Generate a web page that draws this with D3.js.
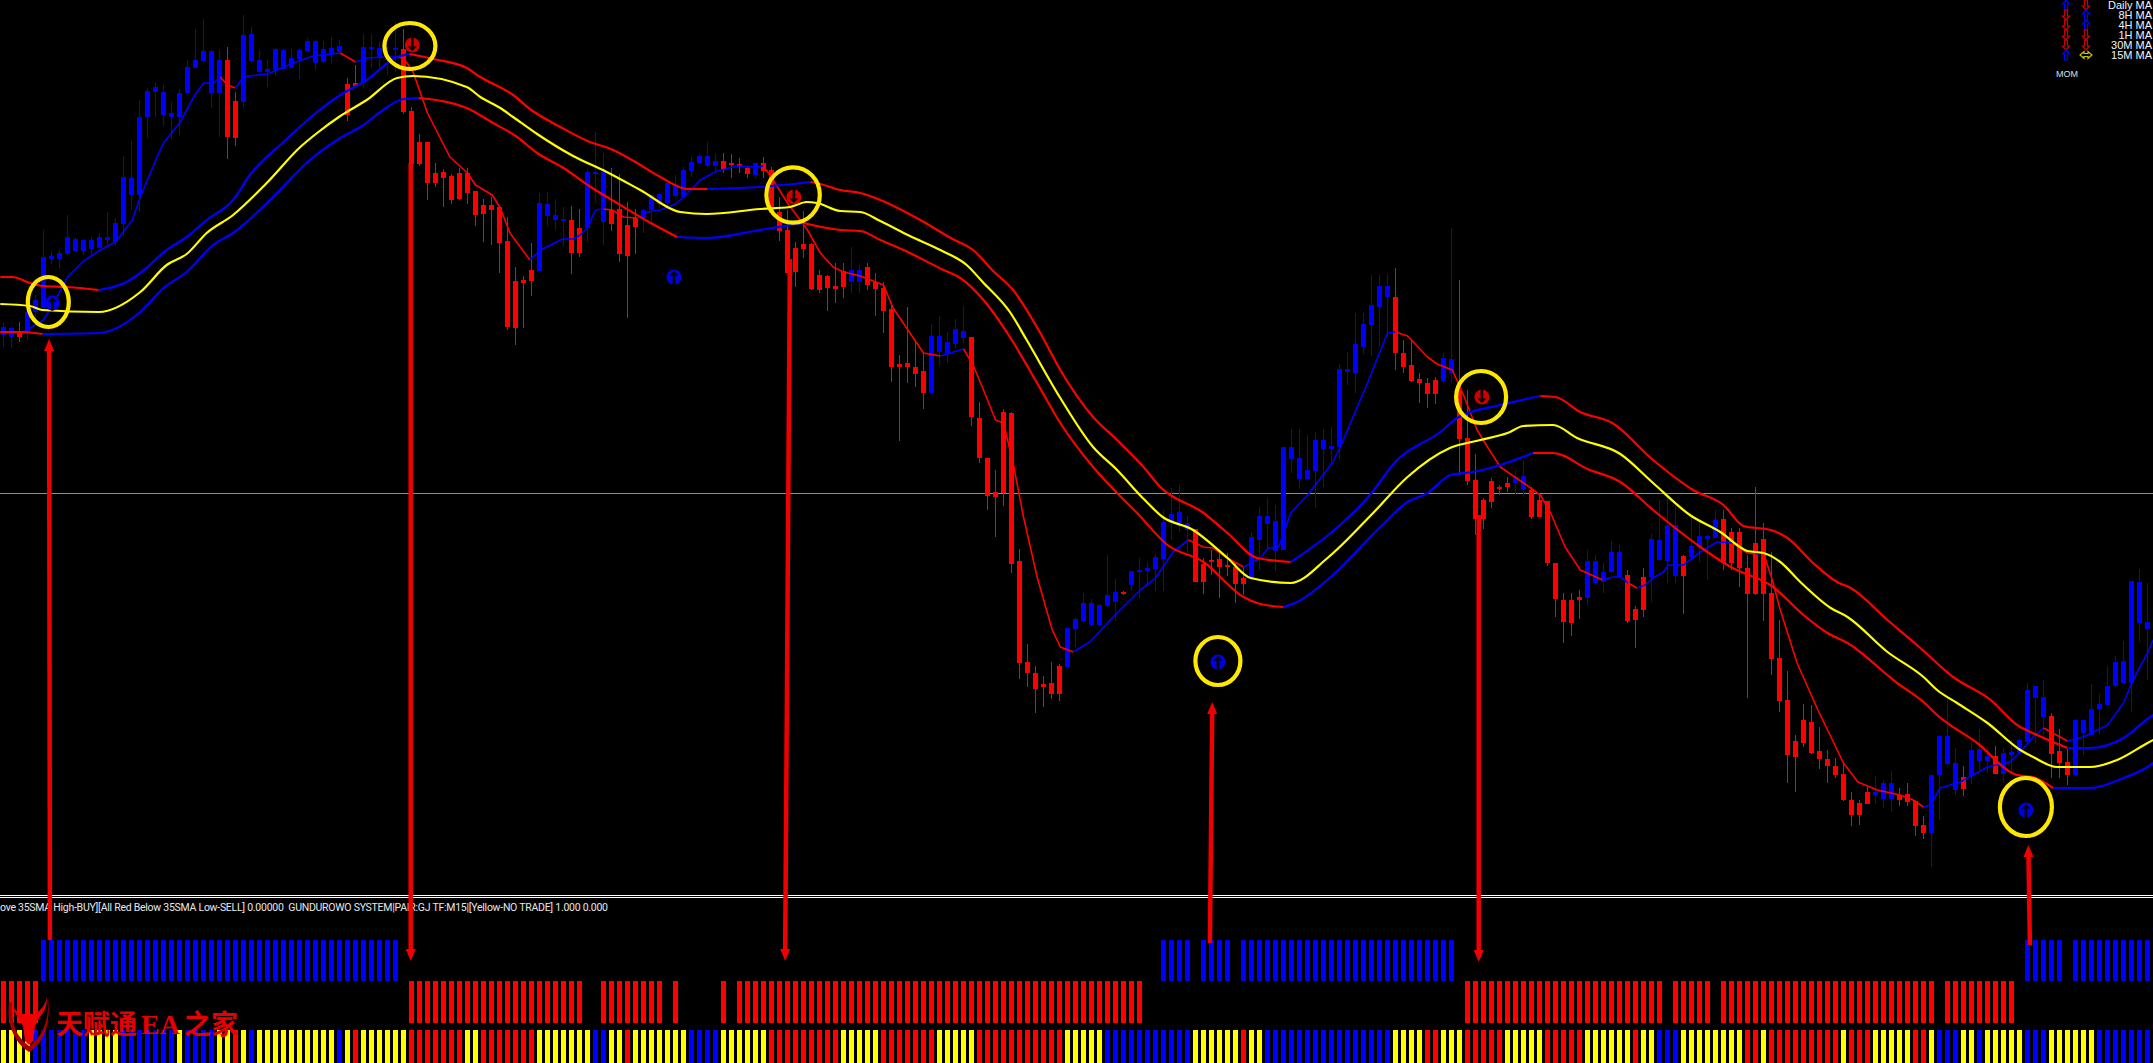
<!DOCTYPE html>
<html><head><meta charset="utf-8">
<style>html,body{margin:0;padding:0;background:#000;overflow:hidden}svg{display:block}</style>
<script src="https://d3js.org/d3.v7.min.js"></script></head><body><svg id="c" width="2153" height="1063"></svg>
<script>
// M15 candles, in chart points
const opens=[565,563,567,567,588,592,641,641,646,649,
649,651,652,660,658,676,705,705,783,808,
785,783,783,807,832,839,807,807,840,799,
798,839,828,828,830,831,832,841,849,837,
838,845,848,816,817,817,851,843,841,850,
851,789,758,758,727,728,724,727,727,709,
695,695,693,659,619,620,630,629,684,680,
679,680,672,672,726,678,690,691,675,682,
682,690,696,697,704,703,729,737,734,734,
739,737,736,732,725,737,730,688,670,652,
656,656,625,624,614,629,618,618,633,618,
612,591,536,537,533,529,507,548,547,556,
562,563,482,442,408,488,487,339,238,227,
216,217,234,233,271,279,275,275,294,298,
308,315,329,329,331,341,377,377,370,371,
336,340,341,335,333,322,322,360,376,349,
350,441,421,421,429,451,451,453,528,527,
553,575,593,603,603,547,535,521,517,520,
519,527,510,462,420,400,419,413,417,417,
411,410,400,399,337,300,300,303,302,317,
318,328,323,325,291,323,323,340,339,324,
344,343,353,361,362,381,368,368,332,357,
361,307,242,200,159,180,178,149,141,134,
126,100,97,108,105,101,101,105,106,99,
75,67,125,136,110,123,124,139,139,144,
126,145,147,158,202,183,184,149,138,125,
167,165,191,195,214,217,217,277,271];
const closes=[573,572,563,588,600,643,644,647,663,661,
660,660,663,663,677,723,722,783,809,813,
808,787,807,833,840,849,849,840,763,762,
865,866,840,831,851,850,842,850,859,859,
851,852,854,785,814,853,853,852,842,852,
788,736,736,717,717,722,700,701,707,685,
686,690,657,573,572,617,619,697,696,685,
681,647,647,728,728,728,676,646,644,673,
690,705,706,717,714,730,738,744,744,739,
731,735,734,726,737,729,687,669,627,628,
651,611,610,612,611,613,630,630,615,611,
589,533,533,533,526,507,564,564,558,571,
569,483,442,404,403,407,336,237,227,211,
213,206,206,272,281,297,297,295,305,308,
307,329,330,332,343,378,386,388,377,318,
318,338,333,334,316,316,363,384,384,379,
453,453,442,430,460,460,454,531,531,556,
576,595,614,614,547,533,519,517,506,506,
542,541,461,419,381,381,398,411,413,423,
424,383,383,337,301,278,277,300,339,339,
328,348,348,279,280,290,361,360,375,375,
324,354,364,364,380,337,337,332,306,306,
306,241,199,145,143,157,147,141,134,125,
100,85,85,96,108,117,117,100,98,74,
67,125,164,164,137,111,150,151,144,126,
147,148,160,210,214,203,146,137,125,180,
180,191,196,214,238,239,319,318,278];
const highs=[577,573,578,593,605,670,649,650,685,663,
661,663,667,688,682,744,759,800,812,817,
815,798,811,840,871,881,850,850,853,808,
885,873,850,840,852,851,851,851,862,860,
859,863,860,822,835,866,866,858,853,878,
871,793,766,758,737,731,726,732,732,709,
701,703,693,683,633,624,657,707,708,701,
693,694,691,731,768,747,732,726,698,691,
691,705,707,718,725,733,743,746,758,746,
747,746,742,733,737,743,733,703,690,658,
689,657,630,625,637,637,653,635,637,627,
618,598,545,593,558,547,576,584,568,581,
594,563,498,442,430,491,488,351,256,234,
224,238,236,272,282,307,301,296,345,321,
309,329,342,338,346,390,412,415,384,371,
342,350,348,347,337,333,368,393,402,395,
453,471,471,465,468,471,473,536,548,587,
587,625,625,626,632,560,560,527,522,523,
547,672,620,510,446,402,422,415,423,430,
439,413,407,399,337,307,307,310,350,345,
337,359,355,330,294,332,366,400,405,394,
345,383,379,365,390,390,372,372,345,413,
377,348,280,229,165,196,195,173,150,142,
138,108,100,113,124,120,129,112,117,100,
84,125,164,203,152,134,158,171,152,154,
152,160,161,217,214,220,187,171,151,181,
180,216,206,234,244,259,319,331,317];
const lows=[553,552,558,560,582,590,636,631,645,648,
645,645,650,655,654,664,690,688,762,783,
774,761,765,807,832,838,792,763,741,754,
793,838,828,813,824,831,832,821,848,830,
837,837,847,779,813,813,832,832,825,828,
786,736,734,700,713,693,696,700,696,674,
658,655,627,570,555,572,604,629,674,670,
654,626,643,658,698,655,669,638,582,646,
667,678,692,693,703,702,723,737,733,728,
727,722,727,722,722,722,685,659,627,613,
642,610,607,589,597,602,607,607,610,584,
567,518,459,517,513,491,507,534,537,552,
557,474,437,390,363,394,327,221,213,187,
193,201,199,232,253,278,273,274,293,279,
305,309,302,313,309,309,360,368,346,318,
306,325,302,324,297,305,322,330,350,329,
350,427,411,421,392,413,438,441,515,507,
546,544,553,563,530,527,518,497,492,496,
517,517,425,415,365,371,392,405,408,405,
403,381,383,334,283,257,264,281,295,316,
307,327,322,277,252,283,298,339,317,317,
286,342,338,320,362,330,330,313,202,305,
279,225,188,117,108,153,146,131,117,122,
99,74,75,96,96,92,88,94,94,64,
61,33,80,135,105,104,116,130,127,126,
117,127,146,157,157,165,122,122,115,124,
145,165,165,195,213,216,188,258,220];

// 35 SMA of close (yellow)
const midBars=[-0.4,3.3,4.9,11.9,17.1,20.4,22.9,25.4,28.7,32.9,37.1,39.2,42.1,45.4,49.2,51.2,57.9,59.6,62.1,63.7,66.7,71.2,75.4,79.6,84.6,87.9,94.6,98.3,100.4,101.7,104.6,107.1,109.6,113.3,117.1,120.4,122.4,125.8,127.9,132.1,136.2,139.2,142.4,144.9,148.7,153,155.9,160.9,165.5,171.2,175.5,180.8,184.6,188,190,193.7,196.7,202.1,206.2,210.8,214.6,218,220,222.1,224.6,228.4,230.5,235.5,240,241.7,244.2,248,252.1,253.7,256.7,260.8,264.2,268,268.7];
const midVals=[596,594,590,588,608,635,646,667,685,717,753,767,784,800,822,824,813,803,792,783,766,744,728,710,688,686,691,693,698,697,689,688,679,664,650,635,618,588,560,502,453,430,402,383,370,342,322,317,342,387,423,452,460,467,474,475,462,446,417,385,368,349,347,338,318,292,283,248,223,210,197,177,150,143,133,133,140,157,160];
// 35 SMA of high
const upperBars=[-0.4,1.1,3.3,4.9,8,11.9,15.4,17.1,20.4,22.9,25.4,28.7,30.8,35,39.2,42.5,45.4,49.2,50.8,53.7,57.9,59.6,63.7,65.8,69.6,73,76.2,79.2,82.1,85.5,88,94.6,100.9,102.1,104.6,107.1,109.6,114.6,118.4,121.2,123.7,126.2,129.6,132.1,136.2,139.2,142.5,144.6,150,153,156.7,160.9,165.9,170.5,174.2,179.6,181.7,187.1,192.1,194,197.1,201.1,206.2,211.2,215,217.5,220.9,223,226.2,229.2,230.9,235.5,239.6,243.7,248.4,251.7,254.2,258,260.8,265,268,268.7];
const upperVals=[623,623,617,614,613,610,618,627,650,663,680,700,725,758,788,807,820,843,846,841,832,823,805,791,773,759,750,737,723,711,711,713,718,716,710,707,700,680,662,650,629,610,567,530,483,460,433,413,387,367,342,338,367,402,440,468,482,495,504,503,488,477,440,410,395,374,370,362,337,318,312,280,252,223,200,175,165,152,152,162,181,185];
// 35 SMA of low
const lowerBars=[-0.4,2.1,4.9,11.9,17.1,20,22.9,26.2,28.7,33.7,38.3,42.1,45,47.1,50,51.9,57.9,61.2,64.2,66.7,70,73.4,77.1,80.9,84.2,88,94.6,100,104.6,107.1,109.6,112.5,117.5,119.6,122.5,125.8,129.2,132.1,136.2,139.2,141.7,145.5,150,155,157.1,160,161.7,165.9,172.1,175.5,178,180.9,183.7,187.1,191.2,193.7,198,202.1,206.2,209.6,212.1,215.9,221.2,225,228,230.5,236.7,240,241.7,246.7,251.7,253.7,256.2,260.8,265,268,268.7];
const lowerVals=[568,568,566,567,588,612,628,655,667,703,740,762,775,788,801,802,792,777,763,747,732,713,695,677,663,662,670,677,670,669,660,650,630,622,600,563,517,477,433,407,387,355,338,303,296,293,298,323,373,398,407,425,428,435,447,447,431,418,390,368,353,333,313,285,267,257,217,198,185,157,125,123,112,112,122,133,137];
// fast average
const fastBars=[-0.4,2.5,5,6.5,8,10,12.1,14,16.1,17.1,19.2,20,22.1,23.7,25,26.2,27.1,28,29,30,31.7,33,34.2,36.2,38.7,42.1,44,45.5,48,49.2,50,51.2,53,55.8,58,59,61.1,62.1,63.3,65.8,67.1,69.9,71.2,72.1,73,74,75,76.1,77.5,79.2,80.5,82.1,84,85,87.1,89.2,91.7,94.2,95,96.2,98,100.5,102.1,103.7,105,107.1,110,111.2,115,117.1,120,121.2,122.5,124,125,126.2,127.5,129.2,131.1,132.1,133.7,135.8,138.7,142.1,144,146.2,148.1,150,151.2,153,155,157.1,158.1,159.4,160.9,163,166.1,167.1,170.5,173,174,175.5,178,179.2,181.1,182.5,184.2,185.5,187.1,190,192.1,193.4,195.2,197.1,199.9,201.2,202.1,203.1,204.2,205.2,206.2,207.5,208.1,210,212.1,214.2,216.2,218,219,220,221.1,222.1,224.2,226.8,230,231.8,234.2,237.1,238.7,240,240.8,242.1,244.6,248,250.8,252.1,253.7,255,258,260,263,265,266.2,268,268.7];
const fastVals=[567,568,580,600,623,639,650,658,680,703,743,757,778,802,817,817,823,815,812,823,825,826,830,837,844,847,838,842,843,843,842,828,787,743,727,715,705,692,667,640,650,661,661,665,672,690,691,690,683,682,688,690,696,703,720,729,734,733,734,720,697,670,647,633,628,624,615,592,547,544,551,535,510,480,477,437,383,323,270,253,248,258,283,310,322,348,360,353,352,342,333,342,352,353,387,405,437,453,517,567,568,564,543,536,530,505,470,453,433,417,405,387,353,330,320,323,323,317,312,315,322,328,335,335,348,358,357,347,346,347,320,290,237,190,137,118,110,105,100,93,95,112,118,133,138,148,163,172,159,163,175,197,220,247,260];
// rising stretches (drawn blue), everything else falling (drawn red)
const upperRising=[[11.9,50.8],[88,100.9],[160.9,192.1],[258,270]];
const lowerRising=[[4.9,51.9],[84.2,100],[160,191.2],[258,270]];
const fastRising=[[-1,27.1],[29,42.1],[44,49.2],[65.8,75],[79.2,95],[117.1,120],[133.7,148.1],[155,174],[199.9,203.1],[204.2,216.2],[219,220],[240,255],[258,270]];

const priceLine=[407];
// indicator rows: runs of bars
const topRowRuns=[[5,49],[145,148],[150,153],[155,181],[253,257],[259,268]];
const midRowRuns=[[0,4],[51,72],[75,82],[84,84],[90,90],[92,142],[183,207],[209,213],[215,241],[243,251]];
const bottomRowRuns=[['y',0,3],['b',4,10],['y',11,14],['b',15,21],['y',22,22],['b',23,26],['y',27,28],['r',29,29],['y',30,30],['b',31,31],['y',32,41],['b',42,42],['y',43,43],['r',44,44],['y',45,50],['r',51,57],['y',58,59],['r',60,66],['y',67,73],['b',74,75],['y',76,77],['r',78,78],['y',79,85],['b',86,89],['y',90,95],['r',96,104],['y',105,109],['r',110,116],['y',117,121],['r',122,132],['y',133,137],['b',138,148],['y',149,154],['r',155,155],['y',156,157],['b',158,173],['y',174,177],['r',178,179],['y',180,182],['r',183,187],['y',188,192],['r',193,197],['y',198,203],['r',204,204],['y',205,206],['b',207,209],['y',210,217],['r',218,219],['y',220,220],['r',221,229],['y',230,230],['r',231,233],['y',234,238],['r',239,240],['y',241,241],['b',242,244],['y',245,246],['b',247,247],['y',248,252],['b',253,255],['y',256,261],['b',262,268]];

// annotations in bar / price terms
const ringBars=[5.6,50.8,98.7,151.8,184.7,252.8];
const ringPrices=[598,854,705,239,503,93];
const buySignalBars=[6.1,83.8,151.8,252.8];
const buySignalPrices=[597,623,238,90];
const sellSignalBars=[51.1,98.8,184.8];
const sellSignalPrices=[855,703,503];
const calloutFrom=[[5.8,-40],[50.9,737],[98.3,641],[150.8,-43],[184.4,385],[253.3,-45]];
const calloutTo=[[5.7,561],[50.9,-61],[97.7,-61],[151.1,198],[184.4,-62],[253.1,55]];

const tfLabels=['Daily MA','8H MA','4H MA','1H MA','30M MA','15M MA'];
const tfFirst=['up','down','down','down','down','up'];
const tfSecond=['down','up','up','down','down','flat'];
const statusText='ove 35SMA High-BUY][All Red Below 35SMA Low-SELL] 0.00000  GUNDUROWO SYSTEM|PAIR:GJ TF:M15|[Yellow-NO TRADE] 1.000 0.000';
const watermarkParts=['天赋通','EA','之家'];

// ---------- drawing ----------
const RED='#ff0000',BLUE='#0000ff',YEL='#ffff00';
const svg=d3.select('#c');
const x=d3.scaleLinear().domain([0,269]).range([3.5,2155.5]);
const y=d3.scaleLinear().domain([900,0]).range([0,900]);
const n=opens.length, idx=d3.range(n);

svg.append('rect').attr('width',2153).attr('height',1063).attr('fill','#000');
svg.selectAll('.pl').data(priceLine).join('line').attr('class','pl')
 .attr('x1',0).attr('x2',2153).attr('y1',d=>y(d)+.5).attr('y2',d=>y(d)+.5).attr('stroke','#8c8c8c');

const cg=svg.append('g').attr('shape-rendering','crispEdges');
const col=i=>closes[i]>=opens[i]?BLUE:RED;
cg.selectAll('.w').data(idx).join('rect').attr('class','w')
 .attr('x',i=>Math.floor(x(i))).attr('width',1)
 .attr('y',i=>y(highs[i])).attr('height',i=>y(lows[i])-y(highs[i])).attr('fill',col);
cg.selectAll('.b').data(idx).join('rect').attr('class','b')
 .attr('x',i=>Math.floor(x(i))-2).attr('width',5)
 .attr('y',i=>y(Math.max(opens[i],closes[i])))
 .attr('height',i=>Math.max(1.5,Math.abs(y(opens[i])-y(closes[i])))).attr('fill',col);

const lineGen=d3.line().x(d=>x(d[0])).y(d=>y(d[1]));
const smoothGen=d3.line().x(d=>x(d[0])).y(d=>y(d[1])).curve(d3.curveMonotoneX);
function drawTrend(bars,vals,rising,w,gen){
  const inR=b=>rising.some(r=>b>=r[0]&&b<=r[1]);
  let run=[[bars[0],vals[0]]],cur=null;
  const flush=()=>{svg.append('path').attr('d',gen(run)).attr('fill','none')
    .attr('stroke',cur?BLUE:RED).attr('stroke-width',w).attr('stroke-linejoin','round');};
  for(let i=1;i<bars.length;i++){
    const c=inR((bars[i]+bars[i-1])/2);
    if(cur!==null&&c!==cur){flush();run=[[bars[i-1],vals[i-1]]];}
    cur=c;run.push([bars[i],vals[i]]);
  }
  flush();
}
drawTrend(fastBars,fastVals,fastRising,1.6,lineGen);
drawTrend(upperBars,upperVals,upperRising,2.2,smoothGen);
drawTrend(lowerBars,lowerVals,lowerRising,2.2,smoothGen);
svg.append('path').attr('d',smoothGen(midBars.map((b,i)=>[b,midVals[i]]))).attr('fill','none').attr('stroke',YEL).attr('stroke-width',2.2);

// separator
svg.append('line').attr('x1',0).attr('x2',2153).attr('y1',895.5).attr('y2',895.5).attr('stroke','#fff').attr('stroke-width',1);
svg.append('line').attr('x1',0).attr('x2',2153).attr('y1',897.5).attr('y2',897.5).attr('stroke','#fff').attr('stroke-width',1);
svg.append('text').attr('x',0).attr('y',911).attr('fill','#e8e8e8').attr('font-family','Roboto,"Liberation Sans",sans-serif')
 .attr('font-size',10.5).attr('textLength',608).attr('lengthAdjust','spacing').attr('xml:space','preserve').text(statusText);

// indicator strips
const sg=svg.append('g').attr('shape-rendering','crispEdges');
function strip(b0,b1,top,h,fill){
  for(let b=b0;b<=b1;b++) sg.append('rect').attr('x',Math.floor(x(b))-2).attr('width',5).attr('y',top).attr('height',h).attr('fill',fill);
}
topRowRuns.forEach(r=>strip(r[0],r[1],940,41,BLUE));
midRowRuns.forEach(r=>strip(r[0],r[1],981,42,RED));
const cmap={y:YEL,b:BLUE,r:RED};
bottomRowRuns.forEach(r=>strip(r[1],r[2],1030,33,cmap[r[0]]));

// signals
function signal(bx,by,c,up){
  const g=svg.append('g').attr('transform',`translate(${x(bx)},${y(by)})`);
  g.append('circle').attr('r',7.5).attr('fill',c);
  const p='M0,-6 L4.5,-1.5 L1.3,-1.5 L1.3,7.5 L-1.3,7.5 L-1.3,-1.5 L-4.5,-1.5 Z';
  g.append('path').attr('d',p).attr('transform',up?null:'scale(1,-1)').attr('fill','#000');
}
buySignalBars.forEach((b,i)=>signal(b,buySignalPrices[i],'#0000e0',true));
sellSignalBars.forEach((b,i)=>signal(b,sellSignalPrices[i],'#d00000',false));

// rings
const ringRx=[20.5,25.5,26.7,22.5,25,26], ringRy=[25,23,27.7,24,26,29];
svg.selectAll('.r').data(ringBars).join('ellipse').attr('class','r')
 .attr('cx',d=>x(d)).attr('cy',(d,i)=>y(ringPrices[i])).attr('rx',(d,i)=>ringRx[i]).attr('ry',(d,i)=>ringRy[i])
 .attr('fill','none').attr('stroke','#ffe800').attr('stroke-width',4.2);

// callouts
calloutFrom.forEach((f,i)=>{
  const t=calloutTo[i],x1=x(f[0]),y1=y(f[1]),x2=x(t[0]),y2=y(t[1]);
  const a=Math.atan2(y2-y1,x2-x1),ux=Math.cos(a),uy=Math.sin(a),L=12,W=5;
  const bx=x2-ux*L,by=y2-uy*L;
  svg.append('line').attr('x1',x1).attr('y1',y1).attr('x2',bx).attr('y2',by).attr('stroke','#f00000').attr('stroke-width',4.5);
  svg.append('path').attr('d',`M${x2},${y2}L${bx-uy*W},${by+ux*W}L${bx+uy*W},${by-ux*W}Z`).attr('fill','#f00000');
});

// timeframe table
const ay=i=>5+10*i;
function arrowGlyph(px,py,d){
  const c=d==='up'?BLUE:d==='down'?'#cc0000':'#c8c800';
  const g=svg.append('g').attr('transform',`translate(${px},${py})`);
  const p=d==='flat'?'M-6,0 L-2,-3.5 V-1.5 H2 V-3.5 L6,0 L2,3.5 V1.5 H-2 V3.5 Z':'M0,-5 L3.5,-1 L1.5,-1 L1.5,5 L-1.5,5 L-1.5,-1 L-3.5,-1 Z';
  g.append('path').attr('d',p).attr('transform',d==='down'?'scale(1,-1)':null).attr('fill','none').attr('stroke',c).attr('stroke-width',1.2);
}
tfLabels.forEach((t,i)=>{
  arrowGlyph(2066,ay(i),tfFirst[i]);
  arrowGlyph(2086,ay(i),tfSecond[i]);
  svg.append('text').attr('x',2152).attr('y',ay(i)+4).attr('text-anchor','end').attr('fill','#f0f4ff')
   .attr('font-family','"Liberation Sans",Arial,sans-serif').attr('font-size',11).text(t);
});
svg.append('text').attr('x',2067).attr('y',77).attr('text-anchor','middle').attr('fill','#cfe0f0')
 .attr('font-family','"Liberation Sans",Arial,sans-serif').attr('font-size',9).text('MOM');

// watermark
const wm=svg.append('g');
wm.append('path').attr('d','M9,1002 C6,1030 18,1045 29,1052 C40,1045 52,1030 48,995 C50,1020 42,1038 29,1046 C18,1038 10,1025 12,1002 Z').attr('fill','#a80000');
wm.append('path').attr('d','M12,1003 C16,1020 42,1020 47,997 C47,1028 14,1028 12,1003 Z').attr('fill','#e80000');
wm.append('path').attr('d','M17,1014 L41,1014 L35,1026 L33,1041 L29,1045 L25,1041 L23,1026 Z').attr('fill','#f40000');
const wmX=[56,141,184], wmSize=[27,28,27], wmFonts=['"Noto Sans CJK SC",sans-serif','"Liberation Serif",serif','"Noto Sans CJK SC",sans-serif'];
watermarkParts.forEach((t,i)=>{
  wm.append('text').attr('x',wmX[i]).attr('y',1034).attr('font-family',wmFonts[i]).attr('font-weight','bold')
   .attr('font-size',wmSize[i]).attr('fill','#e60000').text(t);
});
</script></body></html>
